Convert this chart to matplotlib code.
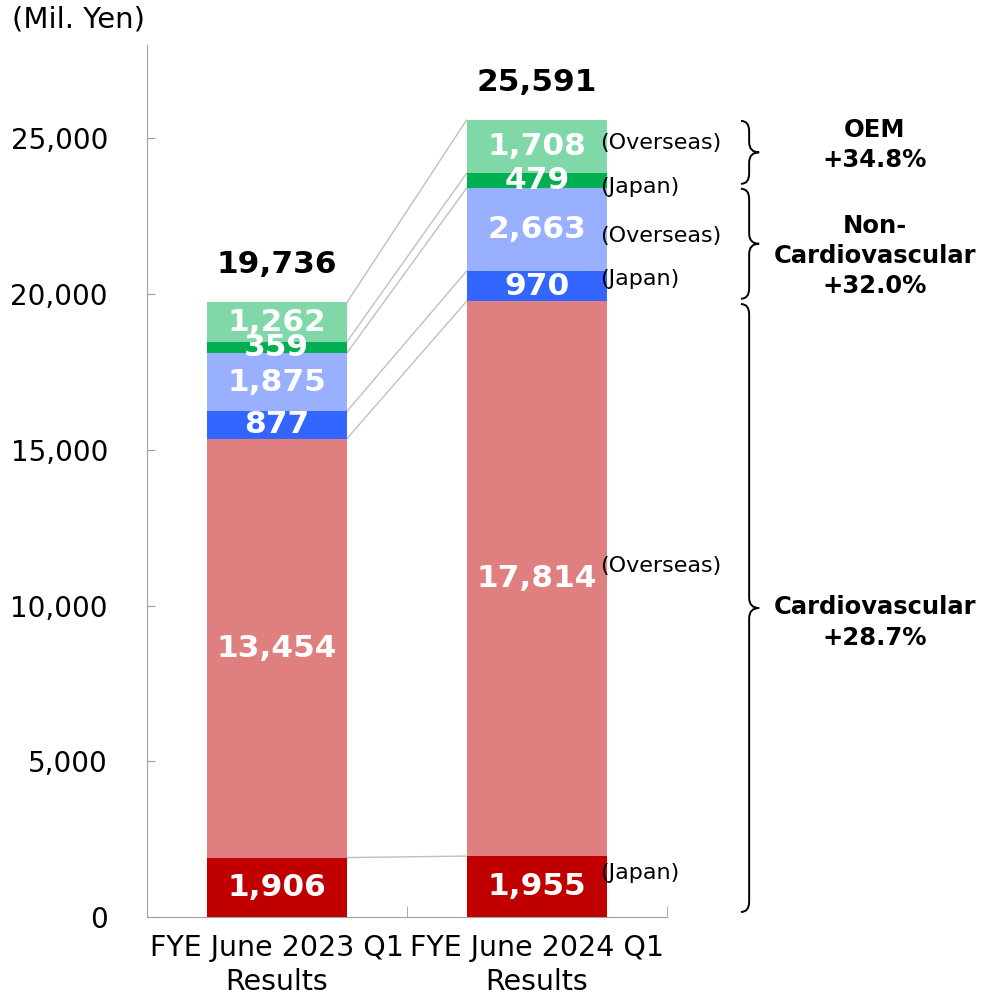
import matplotlib.pyplot as plt
from matplotlib.path import Path
from matplotlib.patches import PathPatch
import numpy as np

# data (Mil. Yen)
periods = ['FYE June 2023 Q1\nResults', 'FYE June 2024 Q1\nResults']
segments = ['Cardio Japan', 'Cardio Overseas', 'Non-Cardio Japan',
            'Non-Cardio Overseas', 'OEM Japan', 'OEM Overseas']
fy2023 = [1906, 13454, 877, 1875, 359, 1262]
fy2024 = [1955, 17814, 970, 2663, 479, 1708]
totals = [19736, 25591]
region_labels = ['(Japan)', '(Overseas)', '(Japan)', '(Overseas)', '(Japan)', '(Overseas)']
region_label_y = [1410, 11280, 20480, 21860, 23430, 24840]
group_labels = ['Cardiovascular\n+28.7%', 'Non-\nCardiovascular\n+32.0%', 'OEM\n+34.8%']
group_label_y = [9455, 21218, 24775]
brace_spans = [(160, 19679), (19850, 23380), (23540, 25560)]

colors = ['#C00000', '#DF7F7F', '#3366FF', '#99AFFF', '#00B050', '#80D8A8']

fig = plt.figure(figsize=(9.85, 9.98), dpi=100)
ax = fig.add_axes([0.149, 0.0812, 0.528, 0.8738])

x = np.arange(len(periods))
width = 0.54
data = np.array([fy2023, fy2024])
bottoms = np.zeros(2)
for i, name in enumerate(segments):
    vals = data[:, i]
    ax.bar(x, vals, width, bottom=bottoms, color=colors[i], zorder=2)
    for j in range(2):
        ax.text(x[j], bottoms[j] + vals[j] / 2, f'{vals[j]:,}', ha='center', va='center',
                color='white', fontsize=22.5, fontweight='bold', zorder=4)
    bottoms = bottoms + vals
    # connector line between the bars
    ax.plot([x[0] + width / 2, x[1] - width / 2], [bottoms[0], bottoms[1]],
            color='#C0C0C0', lw=1, zorder=1)

for j in range(2):
    ax.text(x[j], totals[j] + 1200, f'{totals[j]:,}', ha='center', va='center',
            fontsize=22.5, fontweight='bold', color='black')

# region labels to the right of the second bar
for lab, yy in zip(region_labels, region_label_y):
    ax.text(1.242, yy, lab, ha='left', va='center', fontsize=16, zorder=5)

# curly braces
def brace(ax, x0, y0, y1, w=0.07, r=330):
    xm = x0 + w * 0.45
    x1 = x0 + w
    ym = (y0 + y1) / 2
    verts = [(x0, y1), (xm, y1), (xm, y1 - r),
             (xm, ym + r), (xm, ym), (x1, ym),
             (xm, ym), (xm, ym - r),
             (xm, y0 + r), (xm, y0), (x0, y0)]
    codes = [Path.MOVETO, Path.CURVE3, Path.CURVE3,
             Path.LINETO, Path.CURVE3, Path.CURVE3,
             Path.CURVE3, Path.CURVE3,
             Path.LINETO, Path.CURVE3, Path.CURVE3]
    ax.add_patch(PathPatch(Path(verts, codes), fill=False, lw=1.4,
                           color='black', clip_on=False))

for (y0, y1) in brace_spans:
    brace(ax, 1.785, y0, y1)

for lab, yy in zip(group_labels, group_label_y):
    ax.text(2.30, yy, lab, ha='center', va='center', fontsize=17.5,
            fontweight='bold', linespacing=1.32)

ax.set_xlim(-0.5, 1.5)
ax.set_ylim(0, 28000)
ax.set_yticks(range(0, 25001, 5000))
ax.set_yticklabels([f'{v:,}' for v in range(0, 25001, 5000)])
ax.set_xticks(x)
ax.set_xticklabels(periods, fontsize=20.5, linespacing=1.3)
ax.set_xticks([-0.5, 0.5, 1.5], minor=True)
ax.tick_params(axis='x', which='major', length=0, pad=12)
ax.tick_params(axis='x', which='minor', direction='in', length=8, color='#A0A0A0')
ax.tick_params(axis='y', direction='in', length=6, color='#A0A0A0', labelsize=20, pad=28)

for s in ['top', 'right']:
    ax.spines[s].set_visible(False)
for s in ['left', 'bottom']:
    ax.spines[s].set_color('#A0A0A0')

fig.text(0.012, 0.98, '(Mil. Yen)', fontsize=21, ha='left', va='center')

fig.savefig('out.png', dpi=100)
